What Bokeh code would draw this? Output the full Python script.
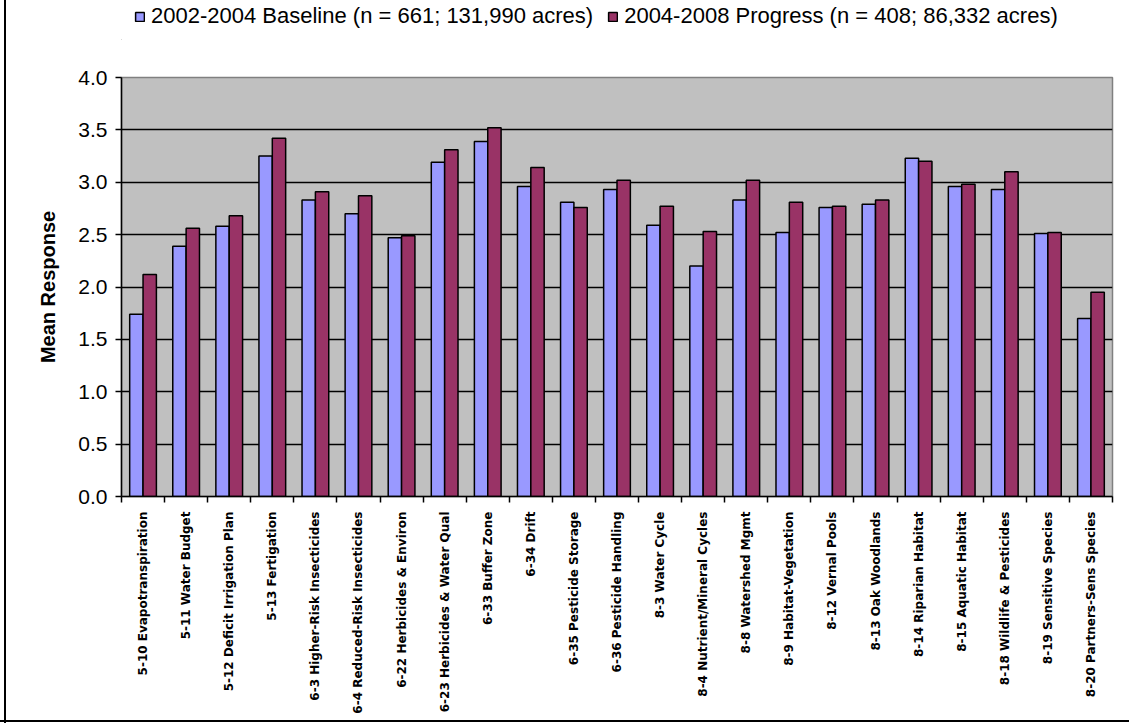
import math
from bokeh.plotting import figure
from bokeh.layouts import column
from bokeh.models import (ColumnDataSource, FixedTicker, NumeralTickFormatter,
                          Legend, LegendItem, Range1d)
from bokeh.embed import file_html
from bokeh.resources import INLINE

# Practice categories (x axis)
practices = [
    "5-10 Evapotranspiration", "5-11 Water Budget", "5-12 Deficit Irrigation Plan",
    "5-13 Fertigation", "6-3 Higher-Risk Insecticides", "6-4 Reduced-Risk Insecticides",
    "6-22 Herbicides & Environ", "6-23 Herbicides & Water Qual", "6-33 Buffer Zone",
    "6-34 Drift", "6-35 Pesticide Storage", "6-36 Pesticide Handling",
    "8-3 Water Cycle", "8-4 Nutrient/Mineral Cycles", "8-8 Watershed Mgmt",
    "8-9 Habitat-Vegetation", "8-12 Vernal Pools", "8-13 Oak Woodlands",
    "8-14 Riparian Habitat", "8-15 Aquatic Habitat", "8-18 Wildlife & Pesticides",
    "8-19 Sensitive Species", "8-20 Partners-Sens Species",
]

# Mean responses per survey period
baseline = [1.74, 2.39, 2.58, 3.25, 2.83, 2.70, 2.47, 3.19, 3.39, 2.96, 2.81, 2.93,
            2.59, 2.20, 2.83, 2.52, 2.76, 2.79, 3.23, 2.96, 2.93, 2.51, 1.70]
progress = [2.12, 2.56, 2.68, 3.42, 2.91, 2.87, 2.49, 3.31, 3.52, 3.14, 2.76, 3.02,
            2.77, 2.53, 3.02, 2.81, 2.77, 2.83, 3.20, 2.98, 3.10, 2.52, 1.95]

series_labels = ["2002-2004 Baseline (n = 661; 131,990 acres)",
                 "2004-2008 Progress (n = 408; 86,332 acres)"]
series_colors = ["#9999FF", "#993366"]

y_ticks = [0.0, 0.5, 1.0, 1.5, 2.0, 2.5, 3.0, 3.5, 4.0]

n = len(practices)
centers = [i + 0.5 for i in range(n)]
bounds = [float(i) for i in range(n + 1)]

src = ColumnDataSource(dict(
    xb=[c - 0.155 for c in centers],
    xp=[c + 0.155 for c in centers],
    base=baseline,
    prog=progress,
))

# ---- legend strip across the top ----
lf = figure(width=1129, height=40, output_backend="svg", toolbar_location=None,
            x_range=Range1d(0, 1), y_range=Range1d(0, 1), min_border=0)
lf.axis.visible = False
lf.grid.visible = False
lf.outline_line_color = None
lf.background_fill_alpha = 0
lf.border_fill_alpha = 0
# key swatches: single off-range bars so the legend has something to draw
key_renderers = [lf.vbar(x=[-5], top=[-5], width=0.1, fill_color=c, line_color="black",
                         line_width=1.5) for c in series_colors]
legend = Legend(items=[LegendItem(label=lab, renderers=[r])
                       for lab, r in zip(series_labels, key_renderers)],
                orientation="horizontal", location=(13, 11),
                label_text_font="Liberation Sans", label_text_font_size="22px",
                label_text_color="black",
                glyph_width=11, glyph_height=11, label_standoff=6, spacing=14,
                padding=0, margin=0, border_line_alpha=0, background_fill_alpha=0)
lf.add_layout(legend, "center")

# ---- main bar chart ----
p = figure(width=1129, height=683, output_backend="svg", toolbar_location=None,
           x_range=Range1d(0, n), y_range=Range1d(0, 4),
           min_border_left=121, min_border_right=17,
           min_border_top=37, min_border_bottom=227)

p.background_fill_color = "#C0C0C0"
p.border_fill_alpha = 0
p.outline_line_color = "#808080"
p.outline_line_width = 1.5

p.vbar(x="xb", top="base", width=0.31, source=src,
       fill_color=series_colors[0], line_color="black", line_width=1.5)
p.vbar(x="xp", top="prog", width=0.31, source=src,
       fill_color=series_colors[1], line_color="black", line_width=1.5)

# Grid
p.xgrid.visible = False
p.ygrid.ticker = FixedTicker(ticks=y_ticks)
p.ygrid.grid_line_color = "black"
p.ygrid.grid_line_width = 1.5

# Y axis
p.yaxis.ticker = FixedTicker(ticks=y_ticks)
p.yaxis.formatter = NumeralTickFormatter(format="0.0")
p.yaxis.major_label_text_font = "Liberation Sans"
p.yaxis.major_label_text_font_size = "21px"
p.yaxis.major_label_text_color = "black"
p.yaxis.major_tick_out = 6
p.yaxis.major_tick_in = 0
p.yaxis.minor_tick_line_color = None
p.yaxis.axis_line_color = "black"
p.yaxis.axis_line_width = 1.5
p.yaxis.major_tick_line_width = 1.5
p.yaxis.major_label_standoff = 8
p.yaxis.axis_label = "Mean Response"
p.yaxis.axis_label_text_font = "Liberation Sans"
p.yaxis.axis_label_text_font_style = "bold"
p.yaxis.axis_label_text_font_size = "20px"
p.yaxis.axis_label_text_color = "black"
p.yaxis.axis_label_standoff = 16

# X axis: labels at category centres, ticks at category boundaries
p.xaxis.ticker = FixedTicker(ticks=centers, minor_ticks=bounds)
p.xaxis.major_label_overrides = {c: lab for c, lab in zip(centers, practices)}
p.xaxis.major_label_orientation = math.pi / 2
p.xaxis.major_label_text_font = "DejaVu Sans"
p.xaxis.major_label_text_font_style = "bold"
p.xaxis.major_label_text_font_size = "12px"
p.xaxis.major_label_text_color = "black"
p.xaxis.major_tick_out = 0
p.xaxis.major_tick_in = 0
p.xaxis.minor_tick_out = 6
p.xaxis.minor_tick_in = 0
p.xaxis.minor_tick_line_color = "black"
p.xaxis.minor_tick_line_width = 1.5
p.xaxis.axis_line_color = "black"
p.xaxis.axis_line_width = 1.5
p.xaxis.major_label_standoff = 9

# Chart-area border on the left and bottom edges
layout = column(lf, p, spacing=0, styles={
    "background-color": "white",
    "background-image": "linear-gradient(black, black), linear-gradient(black, black)",
    "background-size": "2px 100%, 100% 2px",
    "background-position": "4px 0px, 0px 720px",
    "background-repeat": "no-repeat",
})

open("out.html", "w").write(file_html(layout, INLINE))
